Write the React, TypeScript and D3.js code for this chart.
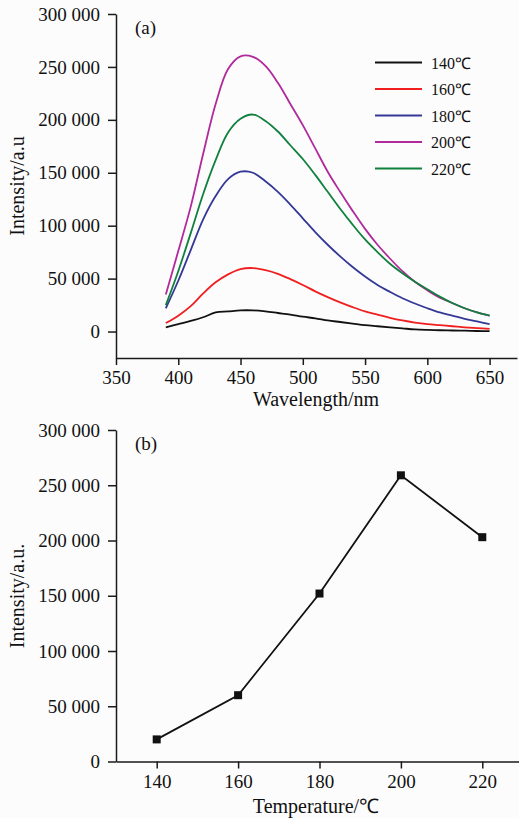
import React, { useEffect, useRef } from "react";
import * as d3 from "d3";

const wavelengths = [390, 400, 410, 420, 430, 440, 450, 460, 470, 480, 490, 500, 510, 520, 530, 540, 550, 560, 570, 580, 590, 600, 610, 620, 630, 640, 650];
const s140 = [4000, 7000, 10000, 13500, 18000, 19000, 20000, 20000, 19000, 17500, 16000, 14000, 12500, 10500, 9000, 7500, 6000, 5000, 4000, 3000, 2000, 1500, 1200, 1000, 800, 500, 300];
const s160 = [8000, 15000, 24000, 36000, 46500, 54000, 59000, 60000, 58000, 54500, 49500, 44000, 38000, 32500, 27500, 23000, 19000, 16000, 13000, 10500, 8500, 7000, 6000, 5000, 4000, 3200, 2500];
const s180 = [22000, 48000, 77000, 106000, 128000, 144000, 151000, 150000, 142000, 132000, 120000, 107000, 94000, 82000, 71000, 61000, 52000, 44000, 37500, 31500, 26500, 22000, 18000, 15000, 12000, 9500, 7000];
const s200 = [35000, 76000, 118000, 168000, 215000, 248000, 260000, 259500, 251000, 235000, 215000, 195000, 173000, 151000, 132000, 114000, 97000, 82000, 69000, 57000, 47000, 39000, 32000, 27000, 22000, 18000, 15000];
const s220 = [25000, 57000, 93000, 130000, 162000, 188000, 201000, 205000, 199000, 189000, 176000, 163000, 148000, 132000, 116000, 101000, 87000, 75000, 64000, 55000, 47000, 40000, 33000, 27000, 22000, 18000, 15000];
const seriesNames = ["140℃", "160℃", "180℃", "200℃", "220℃"];
const seriesColors = ["#111111", "#f01e1e", "#343896", "#b02a9c", "#10803e"];
const seriesValues = [s140, s160, s180, s200, s220];

const temperatures = [140, 160, 180, 200, 220];
const peakIntensity = [20000, 60000, 152000, 259000, 203000];

const yTicks = [0, 50000, 100000, 150000, 200000, 250000, 300000];
const xTicksA = [350, 400, 450, 500, 550, 600, 650];
const xTicksB = [140, 160, 180, 200, 220];

const FONT = "'Liberation Serif', 'Times New Roman', serif";

export default function App() {
  const ref = useRef<SVGSVGElement | null>(null);
  useEffect(() => {
    const svg = d3.select(ref.current);
    svg.selectAll("*").remove();
    const fmt = d3.formatLocale({ thousands: " ", grouping: [3], decimal: ".", currency: ["", ""] }).format(",");

    const styleAxis = (g: any) => {
      g.selectAll(".domain").attr("stroke", "#1a1a1a").attr("stroke-width", 1.5);
      g.selectAll(".tick line").attr("stroke", "#1a1a1a").attr("stroke-width", 1.5);
      g.selectAll(".tick text").attr("fill", "#111").style("font-family", FONT).style("font-size", "19px");
    };

    // Panel (a)
    const xA = d3.scaleLinear().domain([350, 672]).range([116, 517]);
    const yA = d3.scaleLinear().domain([-25000, 300000]).range([358, 14]);
    const gA = svg.append("g");
    const axYA = gA.append("g").attr("transform", `translate(116,0)`)
      .call(d3.axisLeft(yA).tickValues(yTicks).tickFormat(fmt as any).tickSize(8).tickSizeOuter(0).tickPadding(8));
    styleAxis(axYA);
    const axXA = gA.append("g").attr("transform", `translate(0,358)`)
      .call(d3.axisBottom(xA).tickValues(xTicksA).tickFormat(d3.format("d") as any).tickSize(7).tickSizeOuter(0).tickPadding(6));
    styleAxis(axXA);

    const lineA = d3.line<number>()
      .x((_, i) => xA(wavelengths[i]))
      .y((d) => yA(d))
      .curve(d3.curveCatmullRom.alpha(0.5));
    seriesValues.forEach((vals, k) => {
      gA.append("path").attr("d", lineA(vals) as string).attr("fill", "none")
        .attr("stroke", seriesColors[k]).attr("stroke-width", 1.8);
    });

    gA.append("text").attr("x", 135).attr("y", 34).text("(a)")
      .style("font-family", FONT).style("font-size", "19px").attr("fill", "#111");

    const legend = gA.append("g");
    seriesNames.forEach((name, k) => {
      const cy = 62.5 + k * 26.5;
      legend.append("line").attr("x1", 375).attr("x2", 422).attr("y1", cy).attr("y2", cy)
        .attr("stroke", seriesColors[k]).attr("stroke-width", 2);
      legend.append("text").attr("x", 431).attr("y", cy + 6).text(name)
        .style("font-family", FONT).style("font-size", "16px").attr("fill", "#111");
    });

    gA.append("text").attr("x", 316).attr("y", 406).attr("text-anchor", "middle").text("Wavelength/nm")
      .style("font-family", FONT).style("font-size", "20px").attr("fill", "#111");
    gA.append("text").attr("transform", "translate(24,186) rotate(-90)").attr("text-anchor", "middle").text("Intensity/a.u")
      .style("font-family", FONT).style("font-size", "20px").attr("fill", "#111");

    // Panel (b)
    const xB = d3.scaleLinear().domain([130, 230]).range([116, 523]);
    const yB = d3.scaleLinear().domain([0, 300000]).range([761.5, 430]);
    const gB = svg.append("g");
    const axYB = gB.append("g").attr("transform", `translate(116,0)`)
      .call(d3.axisLeft(yB).tickValues(yTicks).tickFormat(fmt as any).tickSize(8).tickSizeOuter(0).tickPadding(8));
    styleAxis(axYB);
    const axXB = gB.append("g").attr("transform", `translate(0,761.5)`)
      .call(d3.axisBottom(xB).tickValues(xTicksB).tickFormat(d3.format("d") as any).tickSize(7).tickSizeOuter(0).tickPadding(6));
    styleAxis(axXB);

    const lineB = d3.line<number>().x((_, i) => xB(temperatures[i])).y((d) => yB(d));
    gB.append("path").attr("d", lineB(peakIntensity) as string).attr("fill", "none")
      .attr("stroke", "#111").attr("stroke-width", 1.8);
    gB.selectAll("rect.mk").data(peakIntensity).enter().append("rect")
      .attr("x", (_, i) => xB(temperatures[i]) - 4)
      .attr("y", (d) => yB(d) - 4)
      .attr("width", 8).attr("height", 8).attr("fill", "#111");

    gB.append("text").attr("x", 135).attr("y", 450).text("(b)")
      .style("font-family", FONT).style("font-size", "19px").attr("fill", "#111");
    gB.append("text").attr("x", 316).attr("y", 813).attr("text-anchor", "middle").text("Temperature/℃")
      .style("font-family", FONT).style("font-size", "20px").attr("fill", "#111");
    gB.append("text").attr("transform", "translate(24,596) rotate(-90)").attr("text-anchor", "middle").text("Intensity/a.u.")
      .style("font-family", FONT).style("font-size", "20px").attr("fill", "#111");
  }, []);

  return (
    <svg ref={ref} width={519} height={818}
      style={{ position: "fixed", left: 0, top: 0, background: "#fcfcfc", display: "block" }} />
  );
}
